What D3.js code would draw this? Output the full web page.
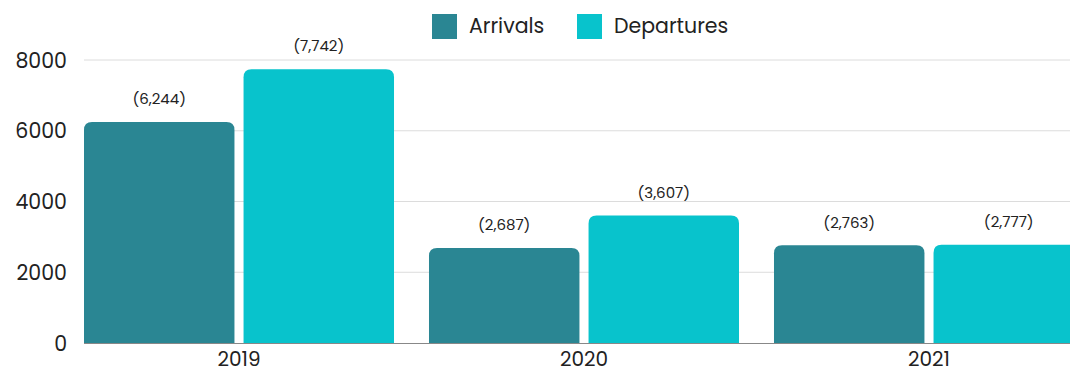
<!DOCTYPE html>
<html>
<head>
<meta charset="utf-8">
<script src="https://cdn.jsdelivr.net/npm/d3@7"></script>
<style>
  html, body { margin: 0; padding: 0; background: #fff; overflow: hidden; }
  svg { display: block; font-family: Poppins, Inter, "Noto Sans", sans-serif; }
</style>
</head>
<body>
<svg id="chart" width="1070" height="371"></svg>
<script>
// Passenger movements by year
const years = ["2019", "2020", "2021"];
const seriesNames = ["Arrivals", "Departures"];
const arrivals = [6244, 2687, 2763];
const departures = [7742, 3607, 2777];
const yTicks = [0, 2000, 4000, 6000, 8000];
const colors = ["#2a8693", "#08c3cc"];

const svg = d3.select("#chart");
const plot = { left: 84, right: 1084, top: 60, bottom: 343 };

const x0 = d3.scaleBand().domain(years).range([plot.left, plot.right])
  .paddingInner(0.1014).paddingOuter(0);
const x1 = d3.scaleBand().domain(seriesNames).range([0, x0.bandwidth()])
  .paddingInner(0.057).paddingOuter(0);
const y = d3.scaleLinear().domain([0, 8000]).range([plot.bottom, plot.top]);
const color = d3.scaleOrdinal().domain(seriesNames).range(colors);

// Gridlines
svg.append("g").selectAll("line").data(yTicks.filter(d => d > 0)).join("line")
  .attr("x1", plot.left).attr("x2", 1070)
  .attr("y1", d => y(d)).attr("y2", d => y(d))
  .attr("stroke", "#dcdcdc").attr("stroke-width", 1);

// Y axis labels
const yAxis = d3.axisLeft(y).tickValues(yTicks).tickSize(0).tickPadding(0)
  .tickFormat(d3.format("d"));
const yg = svg.append("g").attr("transform", `translate(${plot.left - 17},0)`).call(yAxis);
yg.select(".domain").remove();
yg.selectAll("text").attr("font-size", 20.5).attr("fill", "#222")
  .attr("font-family", "Poppins, Inter, sans-serif").attr("dy", "0.35em");

// Data rows
const rows = years.map((yr, i) => ({ year: yr, values: [
  { key: "Arrivals", value: arrivals[i] },
  { key: "Departures", value: departures[i] }
]}));

const r = 8;
function topRounded(x, yTop, w, h) {
  const rr = Math.min(r, h, w / 2);
  return `M${x},${yTop + h}V${yTop + rr}Q${x},${yTop} ${x + rr},${yTop}` +
         `H${x + w - rr}Q${x + w},${yTop} ${x + w},${yTop + rr}V${yTop + h}Z`;
}

const groups = svg.append("g").selectAll("g").data(rows).join("g")
  .attr("transform", d => `translate(${x0(d.year)},0)`);

groups.selectAll("path").data(d => d.values).join("path")
  .attr("d", d => topRounded(x1(d.key), y(d.value), x1.bandwidth(), y(0) - y(d.value)))
  .attr("fill", d => color(d.key));

groups.selectAll("text").data(d => d.values).join("text")
  .attr("x", d => x1(d.key) + x1.bandwidth() / 2)
  .attr("y", d => y(d.value) - 23)
  .attr("dy", "0.35em")
  .attr("text-anchor", "middle")
  .attr("font-size", 15).attr("fill", "#222")
  .text(d => `(${d3.format(",")(d.value)})`);

// Baseline
svg.append("line").attr("x1", plot.left).attr("x2", 1070)
  .attr("y1", y(0) + 0.5).attr("y2", y(0) + 0.5)
  .attr("stroke", "#888").attr("stroke-width", 1);

// X axis labels
const xAxis = d3.axisBottom(x0).tickSize(0).tickPadding(0);
const xg = svg.append("g").attr("transform", `translate(0,${plot.bottom})`).call(xAxis);
xg.select(".domain").remove();
xg.selectAll("text").attr("font-size", 20).attr("fill", "#222")
  .attr("font-family", "Poppins, Inter, sans-serif")
  .attr("y", 16).attr("dy", "0.35em");

// Legend
const legendX = [432, 577];
const legend = svg.append("g").selectAll("g").data(seriesNames).join("g")
  .attr("transform", (d, i) => `translate(${legendX[i]},14)`);
legend.append("rect").attr("width", 25).attr("height", 25).attr("fill", d => color(d));
legend.append("text").attr("x", 37).attr("y", 11.5).attr("dy", "0.35em")
  .attr("font-size", 20.5).attr("fill", "#222").text(d => d);
</script>
</body>
</html>
